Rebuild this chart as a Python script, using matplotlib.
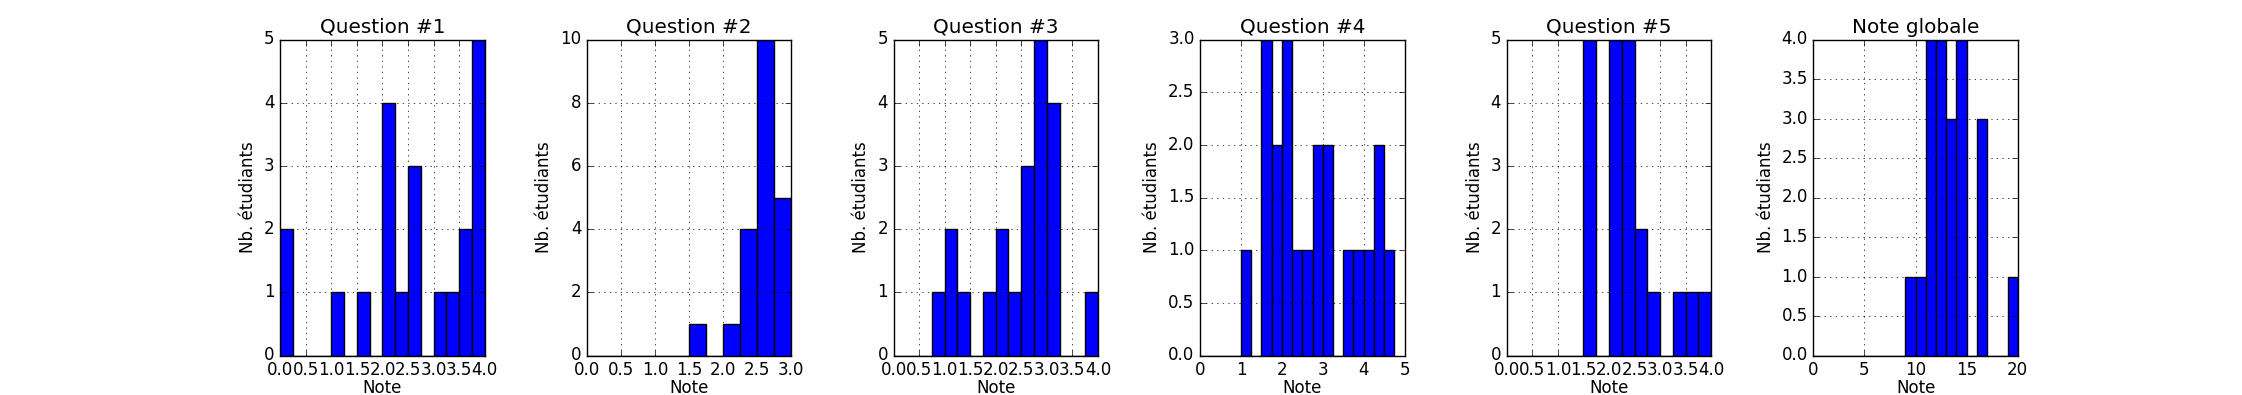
import matplotlib
matplotlib.use("Agg")

import numpy as np
import matplotlib.pyplot as plt

plt.style.use("classic")

titles = ["Question #1", "Question #2", "Question #3", "Question #4", "Question #5", "Note globale"]

# bin width per panel
bin_widths = [0.25, 0.25, 0.25, 0.25, 0.25, 1.0]

# counts per bin
q1_counts = [2, 0, 0, 0, 1, 0, 1, 0, 4, 1, 3, 0, 1, 1, 2, 5]
q2_counts = [0, 0, 0, 0, 0, 0, 1, 0, 1, 4, 10, 5]
q3_counts = [0, 0, 0, 1, 2, 1, 0, 1, 2, 1, 3, 5, 4, 0, 0, 1]
q4_counts = [0, 0, 0, 0, 1, 0, 3, 2, 3, 1, 1, 2, 2, 0, 1, 1, 1, 2, 1]
q5_counts = [0, 0, 0, 0, 0, 0, 5, 0, 5, 5, 2, 1, 0, 1, 1, 1]
total_counts = [0, 0, 0, 0, 0, 0, 0, 0, 0, 1, 1, 4, 4, 3, 4, 0, 3, 0, 0, 1]

all_counts = [q1_counts, q2_counts, q3_counts, q4_counts, q5_counts, total_counts]

xlims = [(0, 4), (0, 3), (0, 4), (0, 5), (0, 4), (0, 20)]
ylims = [(0, 5), (0, 10), (0, 5), (0, 3), (0, 5), (0, 4)]

fig, axes = plt.subplots(1, 6, figsize=(22.42, 3.95), dpi=100)
fig.subplots_adjust(left=0.125, right=0.9, bottom=0.1, top=0.9, wspace=0.5)

for ax, title, counts, bw, xl, yl in zip(axes, titles, all_counts, bin_widths, xlims, ylims):
    counts = np.array(counts, dtype=float)
    edges = np.arange(len(counts) + 1) * bw
    centers = edges[:-1] + bw / 2
    ax.hist(centers, bins=edges, weights=counts, color="b", edgecolor="k")
    ax.set_xlim(*xl)
    ax.set_ylim(*yl)
    ax.set_title(title)
    ax.set_xlabel("Note", labelpad=0)
    ax.set_ylabel("Nb. étudiants")
    ax.grid(True)

fig.savefig("out.png", dpi=100, facecolor="white")
